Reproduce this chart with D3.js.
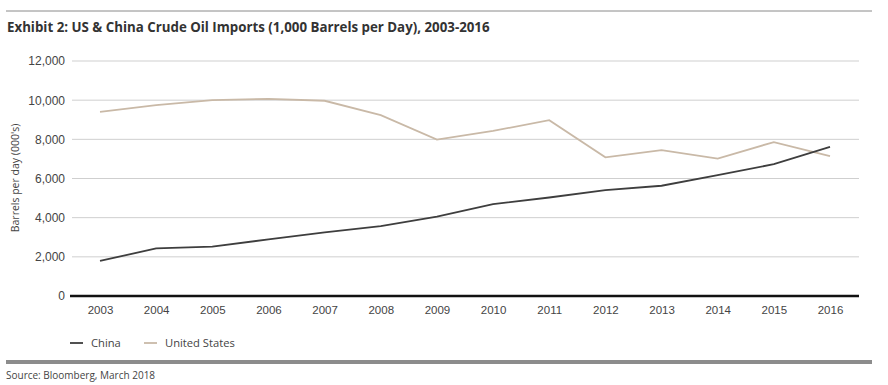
<!DOCTYPE html>
<html>
<head>
<meta charset="utf-8">
<script src="https://cdn.jsdelivr.net/npm/d3@7"></script>
<style>
  body { margin: 0; background: #fff; }
  svg { font-family: "Open Sans", "Noto Sans", sans-serif; }
</style>
</head>
<body>
<svg id="chart" width="888" height="385"></svg>
<script>
// Data (1,000 barrels per day)
var years = [2003, 2004, 2005, 2006, 2007, 2008, 2009, 2010, 2011, 2012, 2013, 2014, 2015, 2016];
var china = [1790, 2430, 2520, 2890, 3250, 3570, 4050, 4690, 5030, 5410, 5630, 6170, 6730, 7620];
var unitedStates = [9400, 9750, 10000, 10070, 9970, 9240, 7990, 8430, 8980, 7080, 7450, 7020, 7860, 7140];
var yTicks = [0, 2000, 4000, 6000, 8000, 10000, 12000];

var series = [
  { name: "China", values: china, color: "#3e3e3e" },
  { name: "United States", values: unitedStates, color: "#c9b9a7" }
];

var svg = d3.select("#chart");

// Frame lines and text
svg.append("line")
  .attr("x1", 6).attr("x2", 872).attr("y1", 11).attr("y2", 11)
  .attr("stroke", "#8a8a8a").attr("stroke-width", 1);

svg.append("text")
  .attr("x", 7).attr("y", 32)
  .attr("font-size", 13.3).attr("font-weight", "bold").attr("fill", "#333")
  .text("Exhibit 2: US & China Crude Oil Imports (1,000 Barrels per Day), 2003-2016");

// Scales
var x = d3.scalePoint().domain(years).range([100, 830]);
var y = d3.scaleLinear().domain([0, 12000]).range([296, 61]);

// Gridlines
svg.append("g")
  .selectAll("line")
  .data(yTicks.filter(function(d) { return d > 0; }))
  .enter()
  .append("line")
  .attr("x1", 72).attr("x2", 859)
  .attr("y1", function(d) { return y(d); })
  .attr("y2", function(d) { return y(d); })
  .attr("stroke", "#cfcfcf").attr("stroke-width", 1);

// Y axis labels
var yAxis = d3.axisLeft(y).tickValues(yTicks).tickSize(0).tickPadding(7).tickFormat(d3.format(","));
var gy = svg.append("g").attr("transform", "translate(72,0)").call(yAxis);
gy.select(".domain").remove();
gy.selectAll("text").attr("font-size", 12).attr("fill", "#444").attr("font-family", null);

svg.append("text")
  .attr("transform", "translate(19,178) rotate(-90)")
  .attr("text-anchor", "middle")
  .attr("font-size", 10.5).attr("fill", "#444")
  .text("Barrels per day (000's)");

// X axis
var xAxis = d3.axisBottom(x).tickSize(0).tickPadding(10);
var gx = svg.append("g").attr("transform", "translate(0,296)").call(xAxis);
gx.select(".domain").remove();
gx.selectAll("text").attr("font-size", 11.5).attr("fill", "#444").attr("font-family", null);

svg.append("line")
  .attr("x1", 70).attr("x2", 859).attr("y1", 296).attr("y2", 296)
  .attr("stroke", "#111").attr("stroke-width", 2.5);

// Lines
var line = d3.line()
  .x(function(d, i) { return x(years[i]); })
  .y(function(d) { return y(d); });

svg.selectAll(".series")
  .data(series.slice().reverse())
  .enter()
  .append("path")
  .attr("class", "series")
  .attr("d", function(d) { return line(d.values); })
  .attr("fill", "none")
  .attr("stroke", function(d) { return d.color; })
  .attr("stroke-width", 1.8);

// Legend
var legendX = [70, 144];
var legend = svg.selectAll(".legend")
  .data(series)
  .enter()
  .append("g")
  .attr("class", "legend")
  .attr("transform", function(d, i) { return "translate(" + legendX[i] + ",343)"; });

legend.append("line")
  .attr("x1", 0).attr("x2", 13)
  .attr("stroke", function(d) { return d.color; })
  .attr("stroke-width", 1.8);

legend.append("text")
  .attr("x", 21).attr("y", 4)
  .attr("font-size", 11.2).attr("fill", "#444")
  .text(function(d) { return d.name; });

// Bottom bar and source
svg.append("rect")
  .attr("x", 6).attr("y", 360).attr("width", 866).attr("height", 4)
  .attr("fill", "#8c8c8c");

svg.append("text")
  .attr("x", 6).attr("y", 379)
  .attr("font-size", 10).attr("fill", "#444")
  .text("Source: Bloomberg, March 2018");
</script>
</body>
</html>
